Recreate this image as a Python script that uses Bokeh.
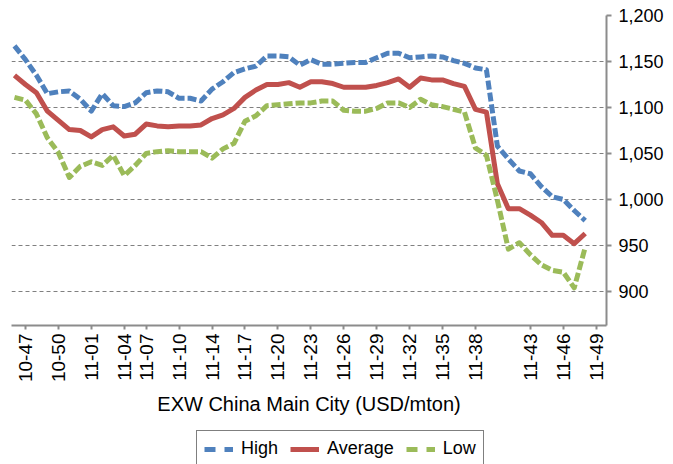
from bokeh.plotting import figure
from bokeh.layouts import column
from bokeh.models import Range1d, FixedTicker, NumeralTickFormatter, Legend, LegendItem, ColumnDataSource
from bokeh.embed import file_html
from bokeh.resources import INLINE

# ---- data ----
high = [1167, 1152, 1135, 1115, 1117, 1118, 1109, 1096, 1115, 1102,
        1101, 1105, 1116, 1118, 1117, 1110, 1110, 1107, 1120, 1128,
        1138, 1142, 1145, 1156, 1156, 1155, 1146, 1152, 1147, 1147,
        1148, 1149, 1149, 1154, 1159, 1159, 1154, 1155, 1156, 1155,
        1151, 1148, 1143, 1141, 1058, 1044, 1031, 1028, 1014, 1003,
        1000, 988, 977]
average = [1135, 1125, 1116, 1096, 1086, 1076, 1075, 1068, 1076, 1079,
           1069, 1071, 1082, 1080, 1079, 1080, 1080, 1081, 1088, 1092,
           1099, 1111, 1119, 1125, 1125, 1127, 1122, 1128, 1128, 1126,
           1122, 1122, 1122, 1124, 1127, 1131, 1122, 1132, 1130, 1130,
           1126, 1123, 1098, 1095, 1017, 990, 990, 983, 975, 961,
           961, 952, 963]
low = [1111, 1108, 1093, 1067, 1051, 1024, 1036, 1041, 1037, 1048,
       1026, 1037, 1050, 1052, 1053, 1052, 1052, 1052, 1045, 1055,
       1061, 1085, 1091, 1102, 1103, 1104, 1105, 1105, 1107, 1107,
       1097, 1096, 1096, 1099, 1105, 1105, 1100, 1109, 1103, 1101,
       1098, 1095, 1056, 1048, 999, 946, 953, 940, 929, 923,
       921, 904, 948]
x_idx = list(range(len(high)))

tick_positions = [1, 4, 7, 10, 12, 15, 18, 21, 24, 27, 30, 33, 36, 39, 42, 47, 50, 53]
tick_labels = ["10-47", "10-50", "11-01", "11-04", "11-07", "11-10", "11-14", "11-17",
               "11-20", "11-23", "11-26", "11-29", "11-32", "11-35", "11-38",
               "11-43", "11-46", "11-49"]
y_ticks = [900, 950, 1000, 1050, 1100, 1150, 1200]
series_names = ["High", "Average", "Low"]

FONT = "Liberation Sans"
AXIS_GRAY = "#8C8C8C"
COLORS = ["#4F81BD", "#C0504D", "#9BBB59"]
DASHES = ["9 3", "solid", "9 3"]
LEGEND_DASHES = ["11 9", "solid", "11 9"]

p = figure(width=673, height=430, output_backend="svg", toolbar_location=None,
           x_range=Range1d(-0.27, 53.94), y_range=Range1d(863, 1200),
           y_axis_location="right",
           min_border_left=11, min_border_right=67, min_border_top=15, min_border_bottom=105)
p.outline_line_color = None
p.background_fill_color = "white"
p.border_fill_color = "white"

src = ColumnDataSource(dict(x=x_idx, High=high, Average=average, Low=low))
for name, col, dash in zip(series_names, COLORS, DASHES):
    p.line("x", name, source=src, line_color=col, line_width=5,
           line_dash=dash, line_cap="butt", line_join="round")

# grid
p.xgrid.visible = False
p.ygrid.ticker = FixedTicker(ticks=y_ticks)
p.ygrid.grid_line_color = "#808080"
p.ygrid.grid_line_dash = "4 3"
p.ygrid.grid_line_width = 1

# x axis
xa = p.xaxis[0]
xa.ticker = FixedTicker(ticks=tick_positions)
xa.major_label_overrides = {t: l for t, l in zip(tick_positions, tick_labels)}
xa.major_label_orientation = 1.5707963
xa.major_label_text_font = FONT
xa.major_label_text_font_size = "19px"
xa.major_label_text_color = "black"
xa.major_label_standoff = 4
xa.major_tick_out = 4
xa.major_tick_in = 0
xa.minor_tick_out = 0
xa.minor_tick_in = 0
xa.axis_line_color = AXIS_GRAY
xa.axis_line_width = 2
xa.major_tick_line_color = AXIS_GRAY
xa.major_tick_line_width = 2
xa.axis_label = "EXW China Main City (USD/mton)"
xa.axis_label_text_font = FONT
xa.axis_label_text_font_size = "20px"
xa.axis_label_text_font_style = "normal"
xa.axis_label_text_color = "black"
xa.axis_label_standoff = 8

# y axis (right)
ya = p.yaxis[0]
ya.ticker = FixedTicker(ticks=y_ticks)
ya.formatter = NumeralTickFormatter(format="0,0")
ya.major_label_text_font = FONT
ya.major_label_text_font_size = "18px"
ya.major_label_text_color = "black"
ya.major_label_standoff = 7
ya.major_tick_out = 5
ya.major_tick_in = 0
ya.minor_tick_out = 0
ya.minor_tick_in = 0
ya.axis_line_color = AXIS_GRAY
ya.axis_line_width = 2
ya.major_tick_line_color = AXIS_GRAY
ya.major_tick_line_width = 2

# legend strip below the chart (same series; they fall outside this strip's range)
pl = figure(width=673, height=34, output_backend="svg", toolbar_location=None,
            x_range=Range1d(0, 1), y_range=Range1d(0, 1),
            x_axis_type=None, y_axis_type=None,
            min_border_left=0, min_border_right=0, min_border_top=0, min_border_bottom=0)
pl.outline_line_color = None
pl.xgrid.visible = False
pl.ygrid.visible = False
items = []
for name, col, dash in zip(series_names, COLORS, LEGEND_DASHES):
    r = pl.line("x", name, source=src, line_color=col, line_width=5,
                line_dash=dash, line_cap="butt")
    items.append(LegendItem(label=name, renderers=[r]))
legend = Legend(items=items, orientation="horizontal", location=(185, -3),
                label_text_font=FONT, label_text_font_size="18px",
                label_text_color="black",
                glyph_width=29, glyph_height=20, label_height=20,
                label_standoff=8, spacing=12, padding=7, margin=0,
                border_line_color="black", border_line_width=1.5,
                background_fill_color="white", background_fill_alpha=1)
pl.add_layout(legend, "center")

layout = column(p, pl, spacing=0)
open("out.html", "w").write(file_html(layout, INLINE))
